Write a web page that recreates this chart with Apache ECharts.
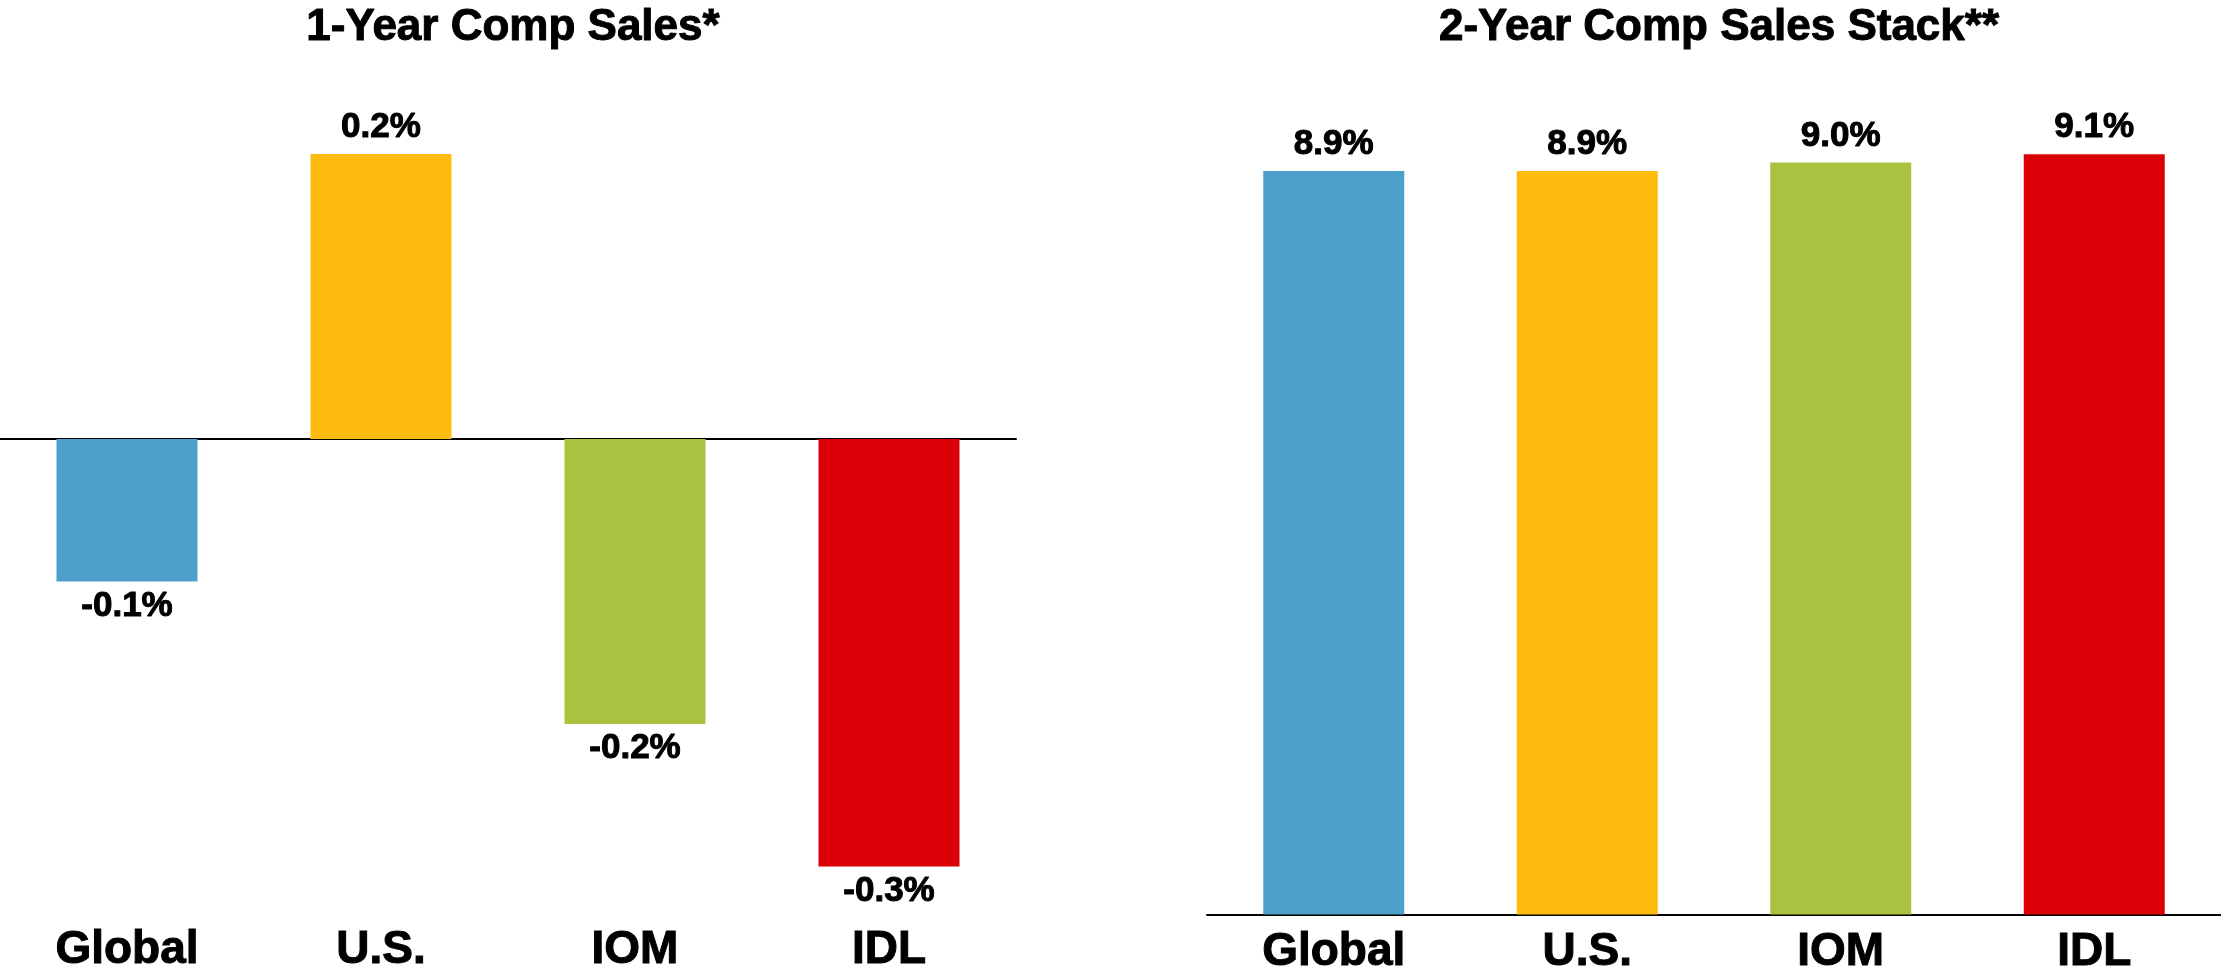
<!DOCTYPE html>
<html>
<head>
<meta charset="utf-8">
<style>
html,body{margin:0;padding:0;background:#fff;}
#chart{width:2221px;height:976px;}
</style>
<script src="https://cdn.jsdelivr.net/npm/echarts@6/dist/echarts.min.js"></script>
</head>
<body>
<div id="chart"></div>
<script>
const categories = ['Global', 'U.S.', 'IOM', 'IDL'];
const oneYear = [-0.1, 0.2, -0.2, -0.3];
const twoYear = [8.9, 8.9, 9.0, 9.1];
const colors = ['#4DA0CA', '#FEBC0F', '#A9C341', '#DB0008'];
const titles = ['1-Year Comp Sales*', '2-Year Comp Sales Stack**'];

const FONT = '"Liberation Sans", Arial, sans-serif';

function items(vals) {
  return vals.map((v, i) => ({
    value: v,
    itemStyle: { color: colors[i] },
    label: { position: v < 0 ? 'bottom' : 'top', distance: v < 0 ? 7 : 9 }
  }));
}

const chart = echarts.init(document.getElementById('chart'), null, { renderer: 'canvas' });
const heavy = { textBorderColor: '#000', textBorderWidth: 1 };
const labelStyle = Object.assign({ show: true, fontFamily: FONT, fontWeight: 'bold', fontSize: 35, color: '#000',
  formatter: p => p.value.toFixed(1) + '%' }, heavy);
const catLabel = Object.assign({ show: true, fontFamily: FONT, fontWeight: 'bold', fontSize: 46, color: '#000' }, heavy);
const titleStyle = Object.assign({ fontFamily: FONT, fontWeight: 'bold', fontSize: 44, color: '#000' }, heavy);

chart.setOption({
  animation: false,
  backgroundColor: '#fff',
  title: [
    { text: titles[0], left: 508, top: 1, textAlign: 'center', textStyle: titleStyle },
    { text: titles[1], left: 1714, top: 1, textAlign: 'center', textStyle: titleStyle }
  ],
  grid: [
    { left: 0, width: 1016, top: 154, bottom: 60, containLabel: false },
    { left: 1207, right: 0, top: 79, bottom: 60, containLabel: false }
  ],
  xAxis: [
    { type: 'category', gridIndex: 0, data: categories,
      axisLine: { show: true, onZero: true, lineStyle: { color: '#000', width: 2 } },
      axisTick: { show: false }, axisLabel: { show: false } },
    { type: 'category', gridIndex: 0, data: categories, position: 'bottom',
      axisLine: { show: false, onZero: false }, axisTick: { show: false },
      axisLabel: Object.assign({ margin: 11 }, catLabel) },
    { type: 'category', gridIndex: 1, data: categories,
      axisLine: { show: true, lineStyle: { color: '#000', width: 2 } },
      axisTick: { show: false },
      axisLabel: Object.assign({ margin: 15 }, catLabel) }
  ],
  yAxis: [
    { type: 'value', gridIndex: 0, min: -0.3347, max: 0.2, show: false, splitLine: { show: false } },
    { type: 'value', gridIndex: 1, min: 0, max: 10, show: false, splitLine: { show: false } }
  ],
  series: [
    { type: 'bar', xAxisIndex: 0, yAxisIndex: 0, barWidth: 141, data: items(oneYear), label: labelStyle },
    { type: 'bar', xAxisIndex: 2, yAxisIndex: 1, barWidth: 141, data: items(twoYear), label: labelStyle }
  ]
});
</script>
</body>
</html>
